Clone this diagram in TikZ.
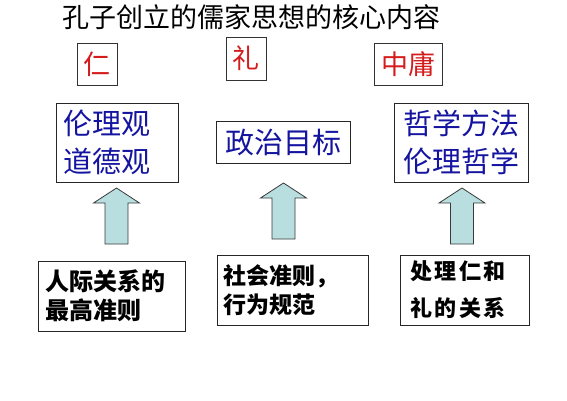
\documentclass[tikz,border=0pt]{standalone}
\usepackage{fontspec}
\newfontfamily\cjk{Noto Sans CJK SC}
\newfontfamily\cjkwide[LetterSpace=12]{Noto Sans CJK SC}
\definecolor{coreRed}{HTML}{D41C1C}
\definecolor{coreBlue}{HTML}{1414A0}
\definecolor{liftFill}{HTML}{B8DEE0}
\definecolor{liftLine}{HTML}{3A3A3A}
\tikzset{
  corefig/.style={x=1pt, y=-1pt, every node/.append style={font=\cjk}},
  % Kernbegriffe oben: rote Schrift im schmalen Kasten
  termbox/.style={draw=black!80, line width=0.8pt, inner sep=0pt,
    minimum height=42pt, text=coreRed, font=\cjk\fontsize{27}{27}\selectfont},
  aimbox/.style={draw=black!85, line width=1pt, inner ysep=0pt, align=left,
    text=coreBlue, font=\cjk\fontsize{29}{38}\selectfont},
  rulebox/.style={draw=black!85, line width=1pt, inner ysep=0pt, align=left,
    minimum height=70pt, font=\cjk\bfseries\fontsize{24}{29}\selectfont},
  pics/liftarrow/.style={code={
    \draw[fill=liftFill, draw=liftLine, line width=0.8pt]
      (-11.5,0) -- (-11.5,-41) -- (-23,-41) -- (0,-56) -- (23,-41)
      -- (11.5,-41) -- (11.5,0) -- cycle;
  }},
}
\begin{document}
\begin{tikzpicture}[corefig]
  \useasboundingbox (0,0) rectangle (567,400);
  \node[font=\cjk\fontsize{27}{27}\selectfont] (Title) at (251,17.5) {孔子创立的儒家思想的核心内容};
  % drei Kernbegriffe
  \node[termbox, minimum width=40pt] (Ren) at (97,64) {仁};
  \node[termbox, minimum width=40pt, minimum height=43pt] (Li) at (246,58.5) {礼};
  \node[termbox, minimum width=68pt] (Zhongyong) at (408,64) {中庸};
  % Ziele
  \node[aimbox, minimum height=79pt, inner xsep=7pt, text width=108pt] (RenAim) at (117,142.5) {伦理观\\道德观};
  \node[aimbox, minimum height=42pt, inner xsep=9pt, text width=116pt] (LiAim) at (283,142) {政治目标};
  \node[aimbox, minimum height=79pt, inner xsep=9pt, text width=116pt] (ZhongyongAim) at (461,142.5) {哲学方法\\伦理哲学};
  % Grundlagen
  \node[rulebox, inner xsep=7pt, text width=133pt] (RenRule) at (111.5,296) {人际关系的\\最高准则};
  \node[rulebox, inner xsep=6pt, text width=139pt, font=\cjk\bfseries\fontsize{23}{29}\selectfont] (LiRule) at (292.5,290) {社会准则，\\行为规范};
  \node[rulebox, inner xsep=10pt, text width=109pt, font=\cjkwide\bfseries\fontsize{22}{37}\selectfont] (ZhongyongRule) at (464.5,290) {处理仁和\\礼的关系};
  % Pfeile
  \pic at (116.5,244) {liftarrow};
  \pic at (283.5,239) {liftarrow};
  \pic at (462,244) {liftarrow};
\end{tikzpicture}
\end{document}
